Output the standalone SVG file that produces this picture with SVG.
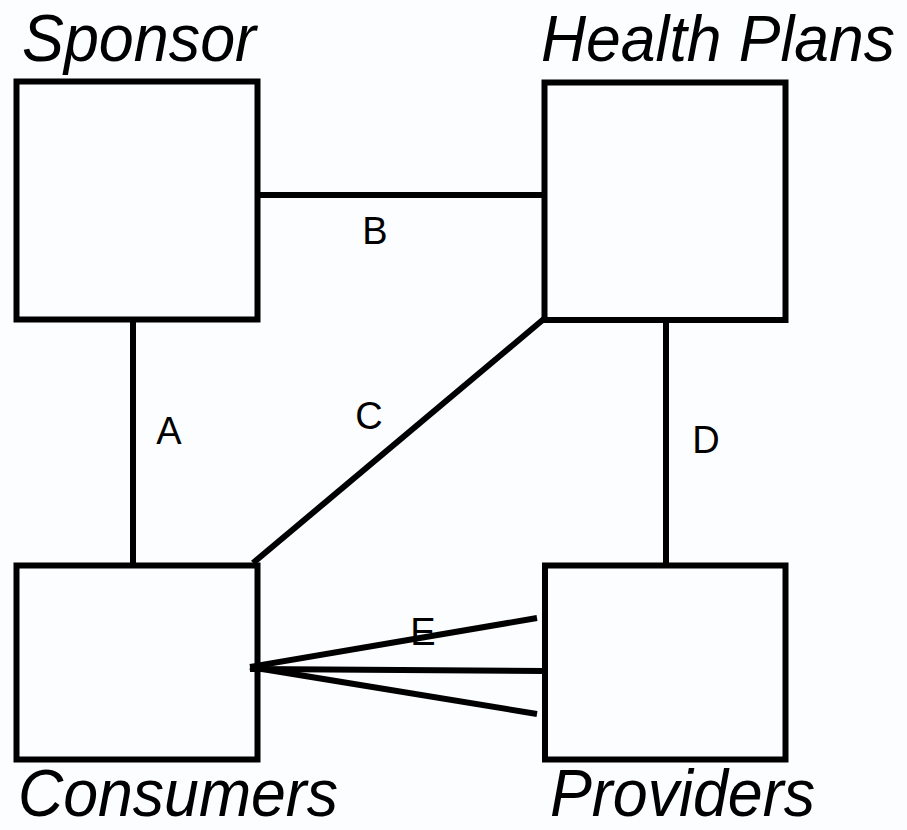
<svg xmlns="http://www.w3.org/2000/svg" width="907" height="830" viewBox="0 0 907 830">
<style>
.box{fill:none;stroke:#000;stroke-width:6}
.ln{stroke:#000;stroke-width:6;fill:none}
.title{font-family:"Liberation Sans",Arial,sans-serif;font-style:italic;font-size:67px;fill:#000}
.lbl{font-family:"Liberation Sans",Arial,sans-serif;font-size:38px;fill:#000}
</style>
<rect width="907" height="830" fill="#fcfdff"/>
<g id="connectors">
<line class="ln" x1="257" y1="195" x2="542" y2="195"/>
<line class="ln" x1="133" y1="320" x2="133" y2="566"/>
<line class="ln" x1="666" y1="320" x2="666" y2="566"/>
<line class="ln" x1="545" y1="318" x2="253" y2="563"/>
<line class="ln" x1="250" y1="667" x2="537" y2="618"/>
<line class="ln" x1="250" y1="669" x2="544" y2="671"/>
<line class="ln" x1="250" y1="667" x2="537" y2="714"/>
<text class="lbl" x="169" y="444" text-anchor="middle">A</text>
<text class="lbl" x="375" y="244" text-anchor="middle">B</text>
<text class="lbl" x="369" y="429" text-anchor="middle">C</text>
<text class="lbl" x="706" y="453" text-anchor="middle">D</text>
<text class="lbl" x="423" y="645" text-anchor="middle">E</text>
</g>
<g id="sponsor">
<rect class="box" x="16.5" y="81.5" width="241" height="238"/>
<text class="title" x="22" y="61" textLength="234" lengthAdjust="spacingAndGlyphs">Sponsor</text>
</g>
<g id="health-plans">
<rect class="box" x="544.5" y="82.5" width="241" height="237.5"/>
<text class="title" x="541" y="61" style="font-size:64px" textLength="354" lengthAdjust="spacingAndGlyphs">Health Plans</text>
</g>
<g id="consumers">
<rect class="box" x="16.5" y="565.5" width="241" height="194"/>
<text class="title" x="18" y="816" textLength="320" lengthAdjust="spacingAndGlyphs">Consumers</text>
</g>
<g id="providers">
<rect class="box" x="545" y="565.5" width="240.5" height="194"/>
<text class="title" x="550" y="816" textLength="265" lengthAdjust="spacingAndGlyphs">Providers</text>
</g>
</svg>
